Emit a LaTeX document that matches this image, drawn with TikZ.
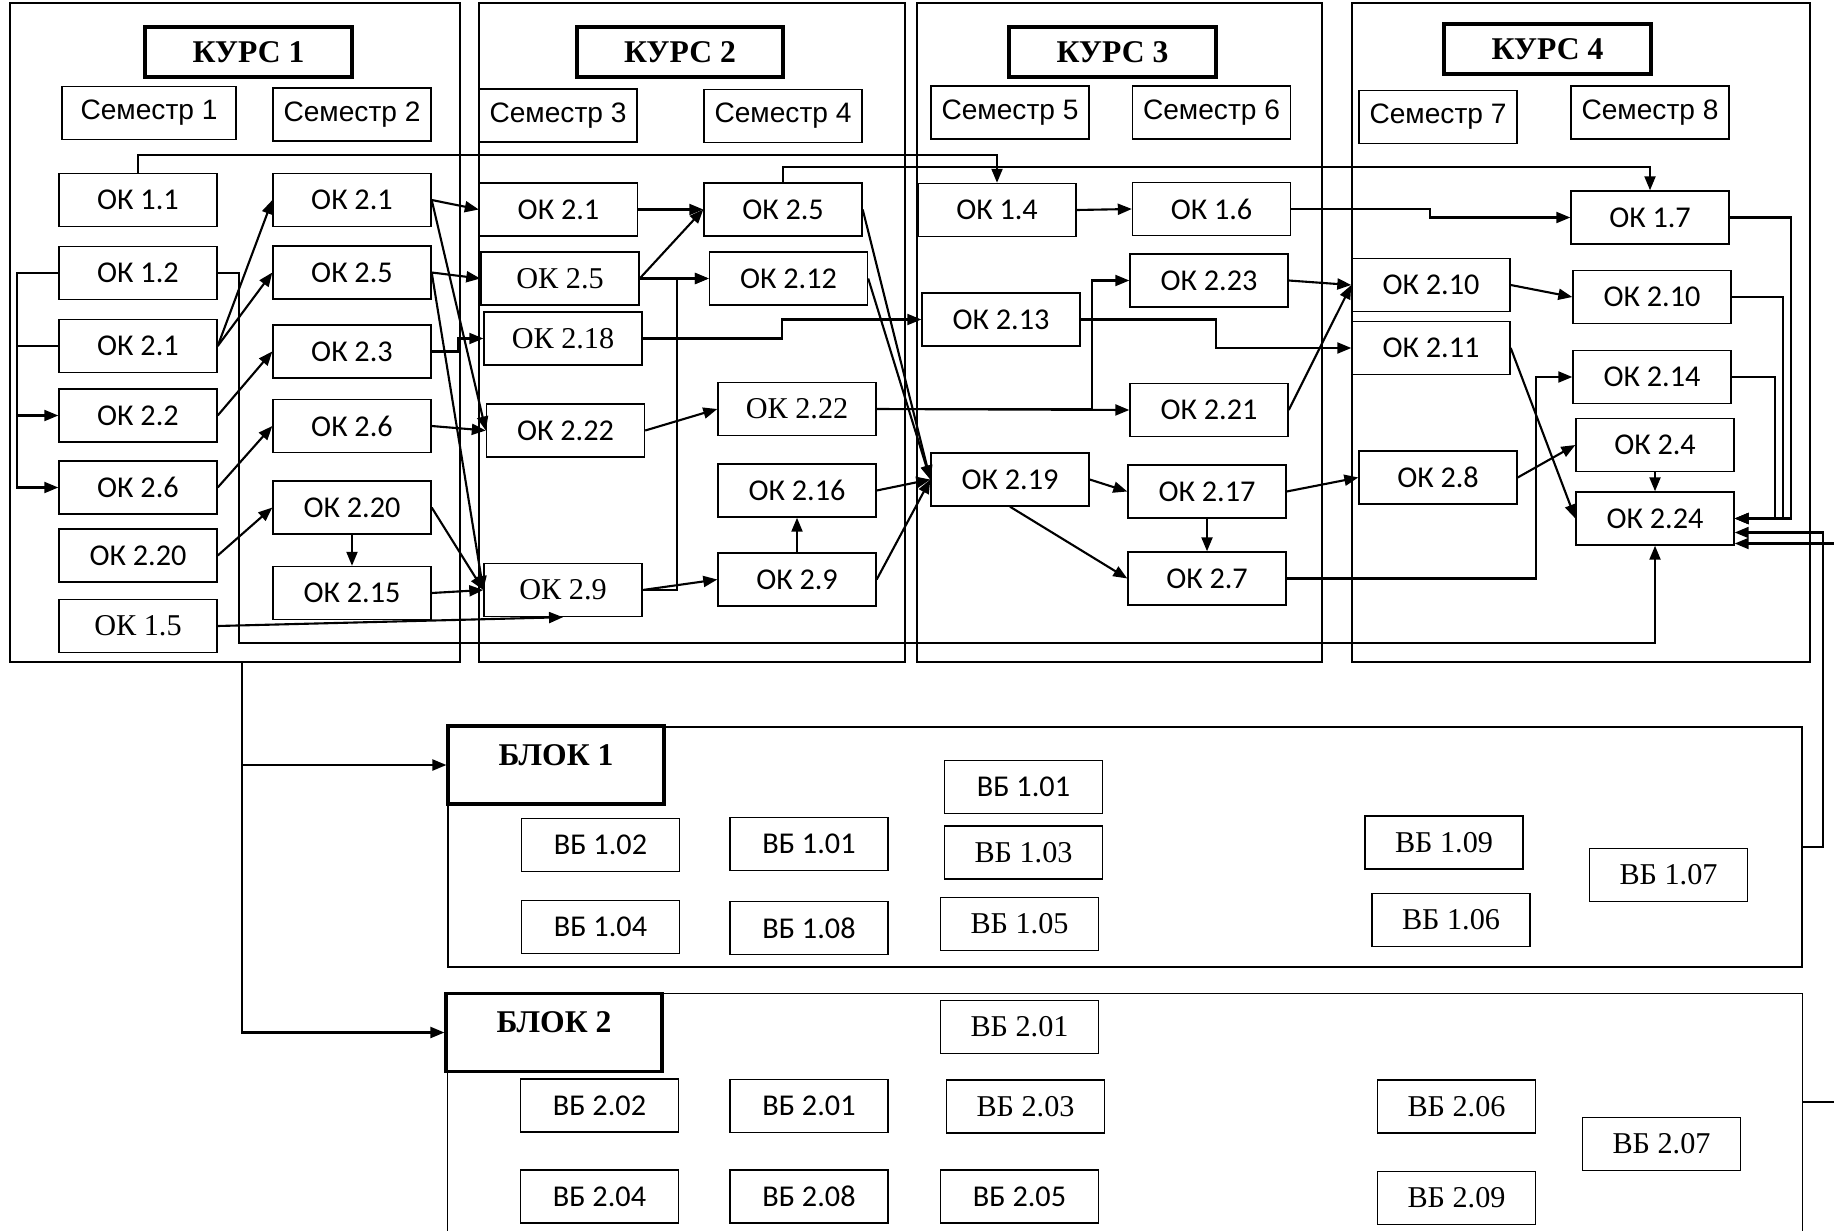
\documentclass[tikz,border=0pt]{standalone}
\usepackage{fontspec}
\setmainfont{Liberation Serif}
\newfontfamily\okfont{Carlito}
\newfontfamily\semfont{Liberation Sans}
\usetikzlibrary{arrows.meta,calc}

\begin{document}
\begin{tikzpicture}[
  ok/.style={draw,line width=0.4pt,minimum width=1.58cm,minimum height=0.53cm,inner sep=0pt,
             font=\okfont\fontsize{8.6}{10}\selectfont},
  okt/.style={ok,font=\fontsize{8.6}{10}\selectfont},
  sem/.style={ok,font=\semfont\fontsize{8}{10}\selectfont},
  kurs/.style={draw,line width=0.9pt,minimum width=2.07cm,minimum height=0.5cm,inner sep=0pt,
               font=\bfseries\fontsize{9}{11}\selectfont},
  blok/.style={kurs,minimum width=2.16cm,minimum height=0.78cm,text height=0.2cm,text depth=0.2cm},
  course/.style={draw,line width=0.4pt,minimum height=6.59cm,inner sep=0pt},
  arr/.style={-{Triangle[length=1.4mm,width=1.1mm]},line width=0.6pt},
  ln/.style={line width=0.6pt}]
  \useasboundingbox (0,0) rectangle (18.34,-12.30);
  \node[course,minimum width=4.50cm] (k1) at (2.35,-3.325) {};
  \node[course,minimum width=4.26cm] (k2) at (6.92,-3.325) {};
  \node[course,minimum width=4.05cm] (k3) at (11.195,-3.325) {};
  \node[course,minimum width=4.58cm] (k4) at (15.81,-3.325) {};
  \node[kurs] (t1) at (2.485,-0.52) {КУРС 1};
  \node[kurs,minimum width=2.06cm] (t2) at (6.80,-0.52) {КУРС 2};
  \node[kurs] (t3) at (11.125,-0.52) {КУРС 3};
  \node[kurs] (t4) at (15.475,-0.49) {КУРС 4};
  \node[sem,minimum width=1.74cm] (s1) at (1.49,-1.13) {Семестр 1};
  \foreach \n/\x/\y in {2/3.52/1.145,3/5.58/1.155,4/7.83/1.16,5/10.10/1.125,
                        6/12.115/1.125,7/14.38/1.17,8/16.50/1.125}
    \node[sem] (s\n) at (\x,-\y) {Семестр \n};
  \node[ok] (a11) at (1.38,-2.00) {ОК 1.1};
  \node[ok] (a12) at (1.38,-2.73) {ОК 1.2};
  \node[ok] (a21) at (1.38,-3.46) {ОК 2.1};
  \node[ok] (a22) at (1.38,-4.155) {ОК 2.2};
  \node[ok] (a26) at (1.38,-4.875) {ОК 2.6};
  \node[ok] (a220) at (1.38,-5.555) {ОК 2.20};
  \node[okt] (a15) at (1.38,-6.26) {ОК 1.5};
  \node[ok] (b21) at (3.52,-2.00) {ОК 2.1};
  \node[ok] (b25) at (3.52,-2.725) {ОК 2.5};
  \node[ok] (b23) at (3.52,-3.515) {ОК 2.3};
  \node[ok] (b26) at (3.52,-4.26) {ОК 2.6};
  \node[ok] (b220) at (3.52,-5.075) {ОК 2.20};
  \node[ok] (b215) at (3.52,-5.93) {ОК 2.15};
  \node[ok] (c21) at (5.585,-2.095) {ОК 2.1};
  \node[okt] (c25) at (5.60,-2.785) {ОК 2.5};
  \node[okt] (c218) at (5.63,-3.385) {ОК 2.18};
  \node[ok] (c222) at (5.655,-4.305) {ОК 2.22};
  \node[okt] (c29) at (5.63,-5.90) {ОК 2.9};
  \node[ok] (d25) at (7.83,-2.095) {ОК 2.5};
  \node[ok] (d212) at (7.885,-2.785) {ОК 2.12};
  \node[okt] (d222) at (7.97,-4.09) {ОК 2.22};
  \node[ok] (d216) at (7.97,-4.905) {ОК 2.16};
  \node[ok] (d29) at (7.97,-5.795) {ОК 2.9};
  \node[ok] (e14) at (9.97,-2.10) {ОК 1.4};
  \node[ok] (e213) at (10.01,-3.195) {ОК 2.13};
  \node[ok] (e219) at (10.10,-4.795) {ОК 2.19};
  \node[ok] (f16) at (12.115,-2.09) {ОК 1.6};
  \node[ok] (f223) at (12.09,-2.805) {ОК 2.23};
  \node[ok] (f221) at (12.09,-4.10) {ОК 2.21};
  \node[ok] (f217) at (12.07,-4.915) {ОК 2.17};
  \node[ok] (f27) at (12.07,-5.785) {ОК 2.7};
  \node[ok] (g210) at (14.31,-2.85) {ОК 2.10};
  \node[ok] (g211) at (14.31,-3.48) {ОК 2.11};
  \node[ok] (g28) at (14.38,-4.775) {ОК 2.8};
  \node[ok] (h17) at (16.50,-2.175) {ОК 1.7};
  \node[ok] (h210) at (16.52,-2.97) {ОК 2.10};
  \node[ok] (h214) at (16.52,-3.77) {ОК 2.14};
  \node[ok] (h24) at (16.55,-4.45) {ОК 2.4};
  \node[ok] (h224) at (16.55,-5.185) {ОК 2.24};
  \node[draw,line width=0.4pt,minimum width=13.54cm,minimum height=2.40cm] (bf1) at (11.25,-8.47) {};
  \node[minimum width=13.54cm,minimum height=2.36cm,inner sep=0pt] (bf2) at (11.25,-11.12) {};
  \draw[line width=0.4pt] (bf2.south west) |- (bf2.north east) -- (bf2.south east);
  \node[blok] (bl1) at (5.56,-7.65) {БЛОК 1};
  \node[blok] (bl2) at (5.54,-10.325) {БЛОК 2};
  \node[ok] (v102) at (6.005,-8.45) {ВБ 1.02};
  \node[ok] (v101a) at (8.09,-8.44) {ВБ 1.01};
  \node[ok] (v101b) at (10.235,-7.87) {ВБ 1.01};
  \node[okt] (v103) at (10.235,-8.525) {ВБ 1.03};
  \node[ok] (v104) at (6.005,-9.27) {ВБ 1.04};
  \node[ok] (v108) at (8.09,-9.28) {ВБ 1.08};
  \node[okt] (v105) at (10.195,-9.24) {ВБ 1.05};
  \node[okt] (v109) at (14.44,-8.425) {ВБ 1.09};
  \node[okt] (v106) at (14.51,-9.20) {ВБ 1.06};
  \node[okt] (v107) at (16.685,-8.75) {ВБ 1.07};
  \node[okt] (w201a) at (10.195,-10.27) {ВБ 2.01};
  \node[ok] (w202) at (5.995,-11.055) {ВБ 2.02};
  \node[ok] (w201b) at (8.09,-11.06) {ВБ 2.01};
  \node[okt] (w203) at (10.255,-11.065) {ВБ 2.03};
  \node[ok] (w204) at (5.995,-11.965) {ВБ 2.04};
  \node[ok] (w208) at (8.09,-11.965) {ВБ 2.08};
  \node[ok] (w205) at (10.195,-11.965) {ВБ 2.05};
  \node[okt] (w206) at (14.565,-11.065) {ВБ 2.06};
  \node[okt] (w209) at (14.565,-11.98) {ВБ 2.09};
  \node[okt] (w207) at (16.615,-11.44) {ВБ 2.07};
  \foreach \a/\b in {a21/b21,a21/b25,a22/b23,a26/b26,a220/b220,b21/c21,b21/c222,b25/c25,
                     b25/c29,b26/c222,b220/c29,b215/c29,c21/d25,c25/d25,c25/d212,c29/d29,
                     c222/d222,d25/e219,d212/e219,d216/e219,d29/e219,d222/f221,e14/f16,
                     e219/f217,f223/g210,f221/g210,f217/g28,g210/h210,g211/h224,g28/h24}
    \draw[arr] (\a.east) -- (\b.west);
  \foreach \a/\b in {b220/b215,f217/f27,h24/h224}
    \draw[arr] (\a.south) -- (\b.north);
  \draw[arr] (d29.north) -- (d216.south);
  \draw[arr] (e219.south) -- (f27.west);
  \draw[arr] (a15.east) -- (c29.south);
  \draw[arr] (a11.north) -- ++(0,0.18) -| (e14.north);
  \draw[arr] (d25.north) -- ++(0,0.15) -| (h17.north);
  \draw[ln] (a12.west) -- ++(-0.41,0) |- (a21.west);
  \foreach \n in {a22,a26} \draw[arr] (a12.west) -- ++(-0.41,0) |- (\n.west);
  \draw[arr] (a12.east) -- ++(0.21,0) -- ++(0,-3.70) -| (h224.south);
  \draw[arr] (b23.east) -- ++(0.26,0) |- (c218.west);
  \draw[arr] (c29.east) -- ++(0.34,0) |- (d212.west);
  \draw[arr] (c218.east) -- ++(1.39,0) |- (e213.west);
  \draw[arr] (d222.east) -- ++(2.15,0) |- (f223.west);
  \draw[arr] (e213.east) -- ++(1.35,0) |- (g211.west);
  \draw[arr] (f16.east) -- ++(1.39,0) |- (h17.west);
  \draw[arr] (f27.east) -- ++(2.49,0) |- (h214.west);
  \draw[arr] (h17.east) -- ++(0.61,0) |- (h224.east);
  \draw[arr] (h210.east) -- ++(0.51,0) |- (h224.east);
  \draw[arr] (h214.east) -- ++(0.43,0) |- (h224.east);
  \draw[arr] (bf1.east) -- ++(0.20,0) |- ([yshift=-1.4mm]h224.east);
  \coordinate (edge1) at (18.34,-5.435);
  \draw[arr] (edge1) -- (edge1 -| h224.east);
  \coordinate (edge2) at (18.34,-11.02);
  \draw[ln] (edge2) -- (edge2 -| bf2.east);
  \coordinate (fork) at (2.42,-6.62);
  \draw[arr] (fork) |- (bl1.west);
  \draw[arr] (fork) |- (bl2.west);
\end{tikzpicture}
\end{document}
